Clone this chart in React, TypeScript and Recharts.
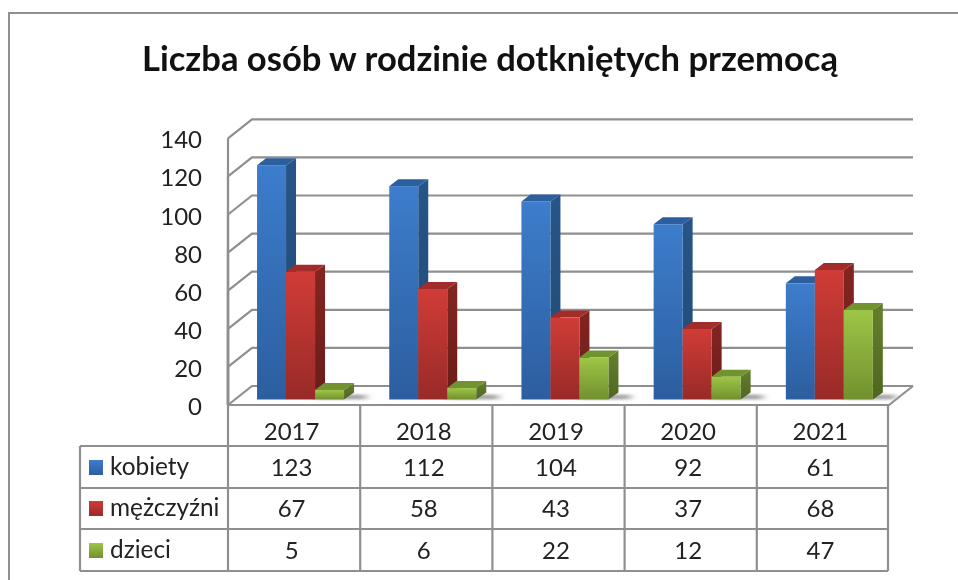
import { BarChart, Bar, XAxis, YAxis, CartesianGrid } from "recharts";

const years = ["2017", "2018", "2019", "2020", "2021"];
const kobiety = [123, 112, 104, 92, 61];
const mezczyzni = [67, 58, 43, 37, 68];
const dzieci = [5, 6, 22, 12, 47];
const yTicks = [0, 20, 40, 60, 80, 100, 120, 140];

const seriesNames = ["kobiety", "mężczyźni", "dzieci"];
const seriesValues = [kobiety, mezczyzni, dzieci];

const chartData = years.map((year, i) => ({
  year,
  kobiety: kobiety[i],
  mezczyzni: mezczyzni[i],
  dzieci: dzieci[i],
}));

const FONT = "Lato, sans-serif";
const GRID = "#8f8f8f";
const TEXT = "#222222";

// the 3d box: walls sit behind the bars, front edge of the floor in front of them
const FRONT_DX = -7;
const FRONT_DY = 5.5;
const BACK_DX = 17;
const BACK_DY = -13.5;
const DEPTH_X = 10;
const DEPTH_Y = 7;

// data table under the plot
const TABLE_LEFT = 80;
const TABLE_RIGHT = 888;
const ROW_LINES = [446, 488, 529, 571];
const ROW_TEXT = [432, 468, 509, 551];
const COL_WIDTH = 132.2;

const faces = [
  { id: "blue", top: "#2b5f9e", side: ["#265587", "#214a76"], grad: ["#3d7dcc", "#2c5e9f"] },
  { id: "red", top: "#a12c29", side: ["#842521", "#691c19"], grad: ["#d03c37", "#982a27"] },
  { id: "green", top: "#719431", side: ["#667f2d", "#4f6622"], grad: ["#9dc646", "#72902f"] },
];

function make3dBar(faceIndex: number) {
  const face = faces[faceIndex];
  return (props: any) => {
    const { x, y, width, height } = props;
    const r = x + width;
    const b = y + height;
    return (
      <g>
        {faceIndex === 0 && (
          <rect
            x={x + width * 2}
            y={b - 5}
            width={width + 22}
            height={5}
            fill="#a8a8a8"
            filter="url(#floorShadow)"
          />
        )}
        <polygon
          points={`${r},${y} ${r + DEPTH_X},${y - DEPTH_Y} ${r + DEPTH_X},${b - DEPTH_Y} ${r},${b}`}
          fill={`url(#side-${face.id})`}
        />
        <polygon
          points={`${x},${y} ${x + DEPTH_X - 1},${y - DEPTH_Y} ${r + DEPTH_X},${y - DEPTH_Y} ${r},${y}`}
          fill={face.top}
        />
        <rect x={x} y={y} width={width} height={height} fill={`url(#front-${face.id})`} />
      </g>
    );
  };
}

function gridLine(props: any) {
  const { x1, x2, y1, index } = props;
  const isFloor = y1 > 395;
  const line = { stroke: GRID, strokeWidth: 2.2, fill: "none" };
  return (
    <g key={`grid-${index}`}>
      <polyline
        {...line}
        points={`${x1 + FRONT_DX},${y1 + FRONT_DY} ${x1 + BACK_DX},${y1 + BACK_DY} ${x2 + BACK_DX},${y1 + BACK_DY}`}
      />
      <line {...line} x1={x1 + FRONT_DX} x2={x1 + FRONT_DX} y1={y1 + FRONT_DY} y2={405} />
      {isFloor && (
        <polyline
          {...line}
          points={`${x1 + FRONT_DX},${y1 + FRONT_DY} ${x2 + FRONT_DX},${y1 + FRONT_DY} ${x2 + BACK_DX},${y1 + BACK_DY}`}
        />
      )}
    </g>
  );
}

function YTick(props: any) {
  const { y, payload } = props;
  return (
    <text x={202} y={y + 15.5} textAnchor="end" fontFamily={FONT} fontSize={24} fill={TEXT}>
      {payload.value}
    </text>
  );
}

function TableColumn(props: any) {
  const { x, index, payload } = props;
  const left = x - COL_WIDTH / 2 + FRONT_DX;
  const line = { stroke: GRID, strokeWidth: 2.2 };
  const cell = {
    textAnchor: "middle" as const,
    fontFamily: FONT,
    fontSize: 24,
    fill: TEXT,
  };
  const cx = x - 9.5;
  return (
    <g>
      <line {...line} x1={left} x2={left} y1={405} y2={ROW_LINES[3]} />
      {index === years.length - 1 && (
        <line {...line} x1={TABLE_RIGHT} x2={TABLE_RIGHT} y1={405} y2={ROW_LINES[3]} />
      )}
      <text x={cx} y={ROW_TEXT[0] + 8} {...cell}>
        {payload.value}
      </text>
      {seriesValues.map((vals, s) => (
        <text key={s} x={cx} y={ROW_TEXT[s + 1] + 8} {...cell}>
          {vals[index]}
        </text>
      ))}
      {index === 0 && (
        <g>
          <line {...line} x1={TABLE_LEFT} x2={TABLE_LEFT} y1={ROW_LINES[0]} y2={ROW_LINES[3]} />
          {ROW_LINES.map((ly) => (
            <line key={ly} {...line} x1={TABLE_LEFT} x2={TABLE_RIGHT} y1={ly} y2={ly} />
          ))}
          {seriesNames.map((name, s) => (
            <g key={name}>
              <rect
                x={89}
                y={ROW_TEXT[s + 1] - 8}
                width={14}
                height={15}
                fill={`url(#front-${faces[s].id})`}
              />
              <text x={110} y={ROW_TEXT[s + 1] + 7} fontFamily={FONT} fontSize={24.4} fill={TEXT}>
                {name}
              </text>
            </g>
          ))}
        </g>
      )}
    </g>
  );
}

export default function App() {
  return (
    <div style={{ position: "absolute", left: 0, top: 0, width: 958, height: 580, filter: "blur(0.6px)" }}>
      <div
        style={{
          position: "absolute",
          left: 8,
          top: 12,
          right: 0,
          bottom: 0,
          borderTop: `2px solid ${GRID}`,
          borderLeft: `2px solid ${GRID}`,
        }}
      />
      <div
        style={{
          position: "absolute",
          left: 0,
          width: 980,
          top: 38,
          textAlign: "center",
          fontFamily: FONT,
          fontWeight: 700,
          fontSize: 34.6,
          lineHeight: "40px",
          color: "#111111",
        }}
      >
        Liczba osób w rodzinie dotkniętych przemocą
      </div>
      <div style={{ position: "absolute", left: 0, top: 0 }}>
        <BarChart
          width={958}
          height={580}
          data={chartData}
          margin={{ top: 132.8, right: 62, left: 0, bottom: 0 }}
          barCategoryGap="16.67%"
          barGap={0}
        >
          <defs>
            {faces.map((f) => (
              <linearGradient key={f.id} id={`front-${f.id}`} x1="0" y1="0" x2="0" y2="1">
                <stop offset="0%" stopColor={f.grad[0]} />
                <stop offset="100%" stopColor={f.grad[1]} />
              </linearGradient>
            ))}
            {faces.map((f) => (
              <linearGradient key={f.id} id={`side-${f.id}`} x1="0" y1="0" x2="0" y2="1">
                <stop offset="0%" stopColor={f.side[0]} />
                <stop offset="100%" stopColor={f.side[1]} />
              </linearGradient>
            ))}
            <filter id="floorShadow" x="-20%" y="-100%" width="140%" height="300%">
              <feGaussianBlur stdDeviation="4 1.2" />
            </filter>
          </defs>
          <CartesianGrid vertical={false} horizontal={gridLine} />
          <XAxis
            dataKey="year"
            height={180.5}
            axisLine={false}
            tickLine={false}
            interval={0}
            tick={TableColumn}
          />
          <YAxis
            width={235}
            domain={[0, 140]}
            ticks={yTicks}
            axisLine={false}
            tickLine={false}
            tick={YTick}
          />
          <Bar dataKey="kobiety" isAnimationActive={false} shape={make3dBar(0)} />
          <Bar dataKey="mezczyzni" isAnimationActive={false} shape={make3dBar(1)} />
          <Bar dataKey="dzieci" isAnimationActive={false} shape={make3dBar(2)} />
        </BarChart>
      </div>
    </div>
  );
}
